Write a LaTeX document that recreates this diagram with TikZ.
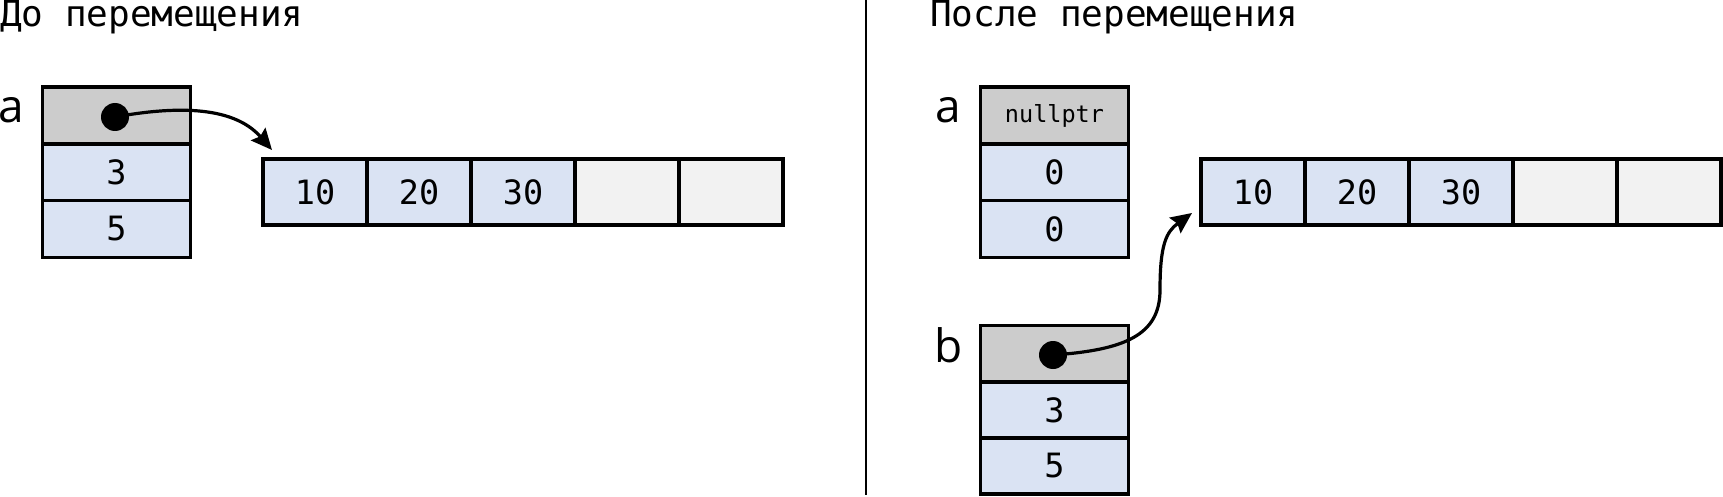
\documentclass[tikz,border=0pt]{standalone}
\usepackage{fontspec}
\setmonofont{DejaVu Sans Mono}
\setsansfont{Open Sans}
\usetikzlibrary{arrows.meta}
\definecolor{grayc}{HTML}{CCCCCC}
\definecolor{bluec}{HTML}{DAE3F3}
\definecolor{emptyc}{HTML}{F2F2F2}
\tikzset{
  cellbox/.style={draw=black, line width=3.4pt, rectangle, inner sep=0pt,
    font=\ttfamily\fontsize{33.5}{33.5}\selectfont},
  varcell/.style={cellbox, minimum width=148pt, minimum height=57pt},
  arrcell/.style={cellbox, minimum width=104pt, minimum height=66pt},
  ptrdot/.style={circle, fill=black, inner sep=0pt, minimum size=28pt},
  ptr/.style={line width=3.2pt, -{Stealth[length=21pt,width=19pt,inset=3pt]}},
  title/.style={anchor=base west, inner sep=0pt, font=\ttfamily\fontsize{36}{36}\selectfont},
  varname/.style={anchor=base, inner sep=0pt, font=\sffamily\fontsize{46}{46}\selectfont}
}
\begin{document}
\begin{tikzpicture}[x=1pt, y=-1pt]
\useasboundingbox (0,0) rectangle (1723,497);
% titles
\node[title] (t1) at (0,27) {До перемещения};
\node[title] (t2) at (930,27) {После перемещения};
% divider
\coordinate (divtop) at (866,0);
\coordinate (divbot) at (866,495);
\draw[line width=2.6pt] (divtop) -- (divbot);

% ---------- left: before ----------
\node[varname] (la) at (11,123) {a};
\node[varcell, fill=grayc] (a0) at (116.5,115.5) {};
\node[varcell, fill=bluec] (a1) at (116.5,172.5) {3};
\node[varcell, fill=bluec] (a2) at (116.5,229) {5};
\node[arrcell, fill=bluec] (l0) at (315,192) {10};
\node[arrcell, fill=bluec] (l1) at (419,192) {20};
\node[arrcell, fill=bluec] (l2) at (523,192) {30};
\node[arrcell, fill=emptyc] (l3) at (627,192) {};
\node[arrcell, fill=emptyc] (l4) at (731,192) {};
\node[ptrdot] (da) at (115,117) {};
\coordinate (tipa) at (272,150);
\draw[ptr] (da.center) .. controls (170,107) and (232,104) .. (tipa);

% ---------- right: after ----------
\node[varname] (ra) at (948,123) {a};
\node[varcell, fill=grayc, font=\ttfamily\fontsize{23.5}{23.5}\selectfont] (b0) at (1054.5,115.5) {nullptr};
\node[varcell, fill=bluec] (b1) at (1054.5,172.5) {0};
\node[varcell, fill=bluec] (b2) at (1054.5,229) {0};
\node[arrcell, fill=bluec] (r0) at (1253,192) {10};
\node[arrcell, fill=bluec] (r1) at (1357,192) {20};
\node[arrcell, fill=bluec] (r2) at (1461,192) {30};
\node[arrcell, fill=emptyc] (r3) at (1565,192) {};
\node[arrcell, fill=emptyc] (r4) at (1669,192) {};
\node[varname] (rb) at (949,362) {b};
\node[varcell, fill=grayc] (c0) at (1054.5,354) {};
\node[varcell, fill=bluec, minimum height=56pt] (c1) at (1054.5,410) {3};
\node[varcell, fill=bluec, minimum height=56pt] (c2) at (1054.5,466) {5};
\node[ptrdot] (db) at (1053,355) {};
\coordinate (mid) at (1160,290);
\coordinate (tipb) at (1192,213);
\draw[ptr] (db.center) .. controls (1125,350) and (1160,335) .. (mid)
  .. controls (1160,245) and (1166,232) .. (tipb);
\end{tikzpicture}
\end{document}
